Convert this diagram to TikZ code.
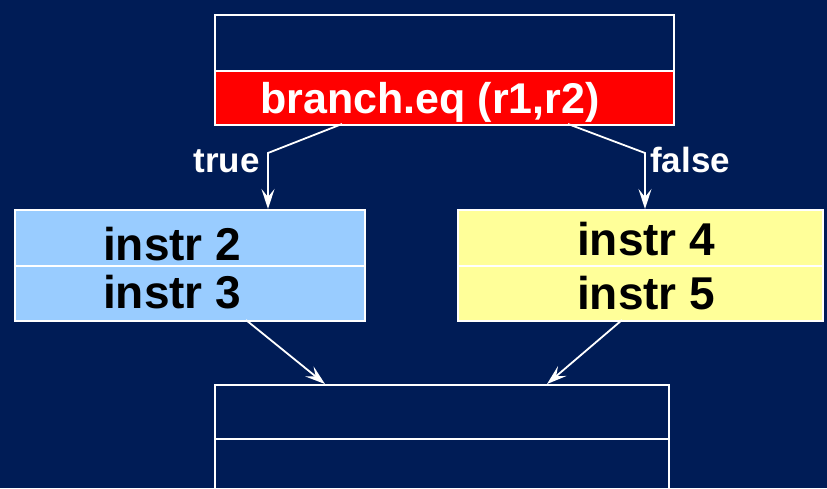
\documentclass[tikz,border=0pt]{standalone}
\usepackage{fontspec}
\setmainfont{Liberation Sans}
\usetikzlibrary{arrows.meta}
\definecolor{navy}{HTML}{001C56}
\definecolor{condred}{HTML}{FF0000}
\definecolor{trueblue}{HTML}{99CCFF}
\definecolor{falseyellow}{HTML}{FFFF99}
\begin{document}
\begin{tikzpicture}[x=1pt,y=-1pt,
  cell/.style={draw=white,line width=1.6pt,rectangle,inner sep=0pt,anchor=north west},
  big/.style={font=\fontsize{43}{48}\selectfont\bfseries,inner sep=0pt},
  instr/.style={font=\fontsize{46}{50}\selectfont\bfseries,inner sep=0pt},
  lbl/.style={font=\fontsize{35}{40}\selectfont\bfseries,text=white,inner sep=0pt},
  arr/.style={draw=white,line width=1.8pt,-{Stealth[length=20pt,width=13pt,inset=8pt]}}]
  % background
  \fill[navy] (0,0) rectangle (827,488);
  \useasboundingbox (0,0) rectangle (827,488);

  % block ending in the branch
  \node[cell,minimum width=459pt,minimum height=56pt] (topA) at (214,14) {};
  \node[cell,fill=condred,minimum width=459pt,minimum height=54pt] (br) at (214,70) {};
  \node[big,text=white,anchor=base] (brtxt) at (430,113) {branch.eq (r1,r2)};

  % taken path
  \node[cell,fill=trueblue,minimum width=350pt,minimum height=56pt] (i2) at (14,209) {};
  \node[cell,fill=trueblue,minimum width=350pt,minimum height=55pt] (i3) at (14,265) {};
  \node[instr,anchor=base west] (i2t) at (103,260) {instr 2};
  \node[instr,anchor=base west] (i3t) at (103,308) {instr 3};

  % fall-through path
  \node[cell,fill=falseyellow,minimum width=365pt,minimum height=56pt] (i4) at (457,209) {};
  \node[cell,fill=falseyellow,minimum width=365pt,minimum height=55pt] (i5) at (457,265) {};
  \node[instr,anchor=base west] (i4t) at (577,255) {instr 4};
  \node[instr,anchor=base west] (i5t) at (577,309) {instr 5};

  % join block
  \node[cell,minimum width=454pt,minimum height=54pt] (jA) at (214,384) {};
  \node[cell,minimum width=454pt,minimum height=70pt] (jB) at (214,438) {};

  % branch edges
  \coordinate (tS) at (342,124);
  \coordinate (tB) at (268,153);
  \coordinate (fS) at (568,124);
  \coordinate (fB) at (645,153);
  \draw[arr] (tS) -- (tB) -- (tB |- i2.north);
  \draw[arr] (fS) -- (fB) -- (fB |- i4.north);
  \node[lbl,anchor=base east] (tl) at (260,172) {true};
  \node[lbl,anchor=base west] (fl) at (650,172) {false};

  % merge edges
  \coordinate (m1) at (246,320);
  \coordinate (m1e) at (325,384);
  \coordinate (m2) at (622,320);
  \coordinate (m2e) at (547,384);
  \draw[arr] (m1) -- (m1e);
  \draw[arr] (m2) -- (m2e);
\end{tikzpicture}
\end{document}
